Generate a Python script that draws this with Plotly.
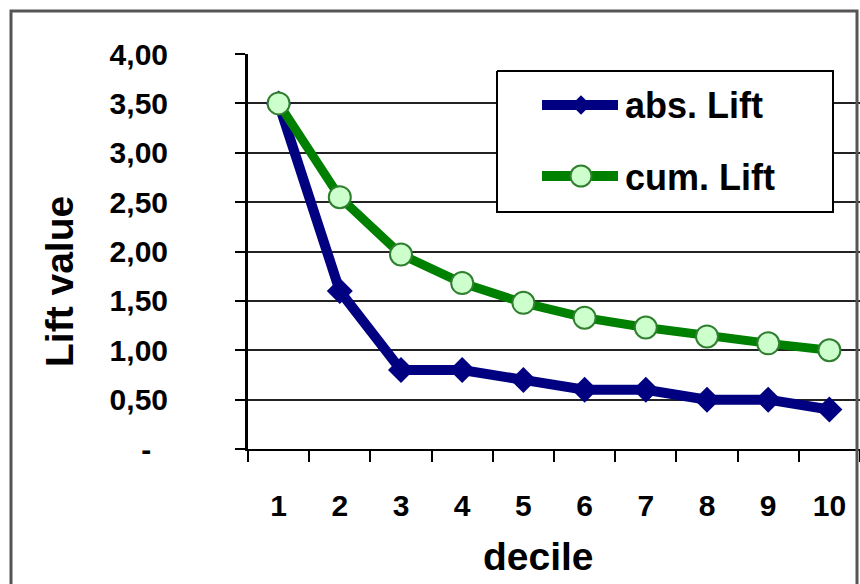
import plotly.graph_objects as go

# Decile lift data
deciles = ["1", "2", "3", "4", "5", "6", "7", "8", "9", "10"]
abs_lift = [3.50, 1.60, 0.80, 0.80, 0.70, 0.60, 0.60, 0.50, 0.50, 0.40]
cum_lift = [3.50, 2.55, 1.97, 1.68, 1.48, 1.33, 1.23, 1.14, 1.07, 1.00]
y_tick_vals = [0, 0.5, 1.0, 1.5, 2.0, 2.5, 3.0, 3.5, 4.0]
y_tick_text = ["-\u00a0\u00a0", "0,50", "1,00", "1,50", "2,00", "2,50", "3,00", "3,50", "4,00"]

W, H = 860, 584
L, R, T, B = 248, 0, 54, 135
PW, PH = W - L - R, H - T - B

NAVY = "#000080"
GREEN = "#008000"
LIGHT = "#ccffcc"
FONT = "Liberation Sans"


def px(x):
    return (x - L) / PW


def py(y):
    return (H - B - y) / PH


fig = go.Figure()

fig.add_trace(go.Scatter(
    x=deciles, y=abs_lift, name="abs. Lift", mode="lines+markers",
    line=dict(color=NAVY, width=10),
    marker=dict(symbol="diamond", size=20, color=NAVY),
    cliponaxis=False,
))
fig.add_trace(go.Scatter(
    x=deciles, y=cum_lift, name="cum. Lift", mode="lines+markers",
    line=dict(color=GREEN, width=9),
    marker=dict(symbol="circle", size=22, color=LIGHT, line=dict(color="#2f7f2f", width=2)),
    cliponaxis=False,
))

# Legend drawn on a pixel-scaled overlay
lg = dict(xaxis="x2", yaxis="y2", hoverinfo="skip", showlegend=False)
fig.add_trace(go.Scatter(
    x=[497, 833, 833, 497, 497], y=[71, 71, 212, 212, 71], mode="lines",
    fill="toself", fillcolor="white", line=dict(color="black", width=2), **lg))
fig.add_trace(go.Scatter(x=[542, 618], y=[105, 105], mode="lines",
                         line=dict(color=NAVY, width=10), **lg))
fig.add_trace(go.Scatter(x=[581], y=[105], mode="markers",
                         marker=dict(symbol="diamond", size=15, color=NAVY), **lg))
fig.add_trace(go.Scatter(x=[542, 618], y=[176, 176], mode="lines",
                         line=dict(color=GREEN, width=10), **lg))
fig.add_trace(go.Scatter(x=[581], y=[176], mode="markers",
                         marker=dict(symbol="circle", size=21, color=LIGHT,
                                     line=dict(color="#2f7f2f", width=2)), **lg))

annotations = [
    dict(xref="x2", yref="y2", x=623, y=105, text="abs. Lift", showarrow=False,
         xanchor="left", yanchor="middle",
         font=dict(family=FONT, size=36, color="black", weight="bold")),
    dict(xref="x2", yref="y2", x=623, y=177, text="cum. Lift", showarrow=False,
         xanchor="left", yanchor="middle",
         font=dict(family=FONT, size=36, color="black", weight="bold")),
    dict(xref="paper", yref="paper", x=px(59), y=py(282), text="Lift value",
         textangle=-90, showarrow=False, xanchor="center", yanchor="middle",
         font=dict(family=FONT, size=39, color="black", weight="bold")),
    dict(xref="paper", yref="paper", x=px(538), y=py(556), text="decile",
         showarrow=False, xanchor="center", yanchor="middle",
         font=dict(family=FONT, size=39, color="black", weight="bold")),
]

shapes = [
    # outer chart frame
    dict(type="rect", xref="paper", yref="paper",
         x0=px(11), x1=px(857), y0=py(620), y1=py(11),
         line=dict(color="#555555", width=3), layer="above"),
]

fig.update_layout(
    width=W, height=H,
    margin=dict(l=L, r=R, t=T, b=B, pad=0),
    paper_bgcolor="white", plot_bgcolor="white",
    showlegend=False,
    font=dict(family=FONT, color="black"),
    annotations=annotations,
    shapes=shapes,
    xaxis=dict(
        type="category", range=[-0.5, 9.5], tickson="boundaries",
        ticks="outside", ticklen=11, tickwidth=2, tickcolor="black",
        showline=True, linewidth=2, linecolor="black",
        showgrid=False, zeroline=False,
        tickfont=dict(family=FONT, size=30, color="black", weight="bold"),
        ticklabelstandoff=29,
    ),
    yaxis=dict(
        range=[0, 4], tickvals=y_tick_vals, ticktext=y_tick_text,
        ticks="outside", ticklen=10, tickwidth=2, tickcolor="black",
        showline=True, linewidth=3, linecolor="black",
        showgrid=True, gridcolor="#222222", gridwidth=2, zeroline=False,
        tickfont=dict(family=FONT, size=30, color="black", weight="bold"),
        ticklabelstandoff=61,
    ),
    xaxis2=dict(overlaying="x", anchor="y2", range=[L, W - R], visible=False,
                fixedrange=True),
    yaxis2=dict(overlaying="y", anchor="x2", range=[H - B, T], visible=False,
                fixedrange=True),
)

fig.write_html("out.html")
